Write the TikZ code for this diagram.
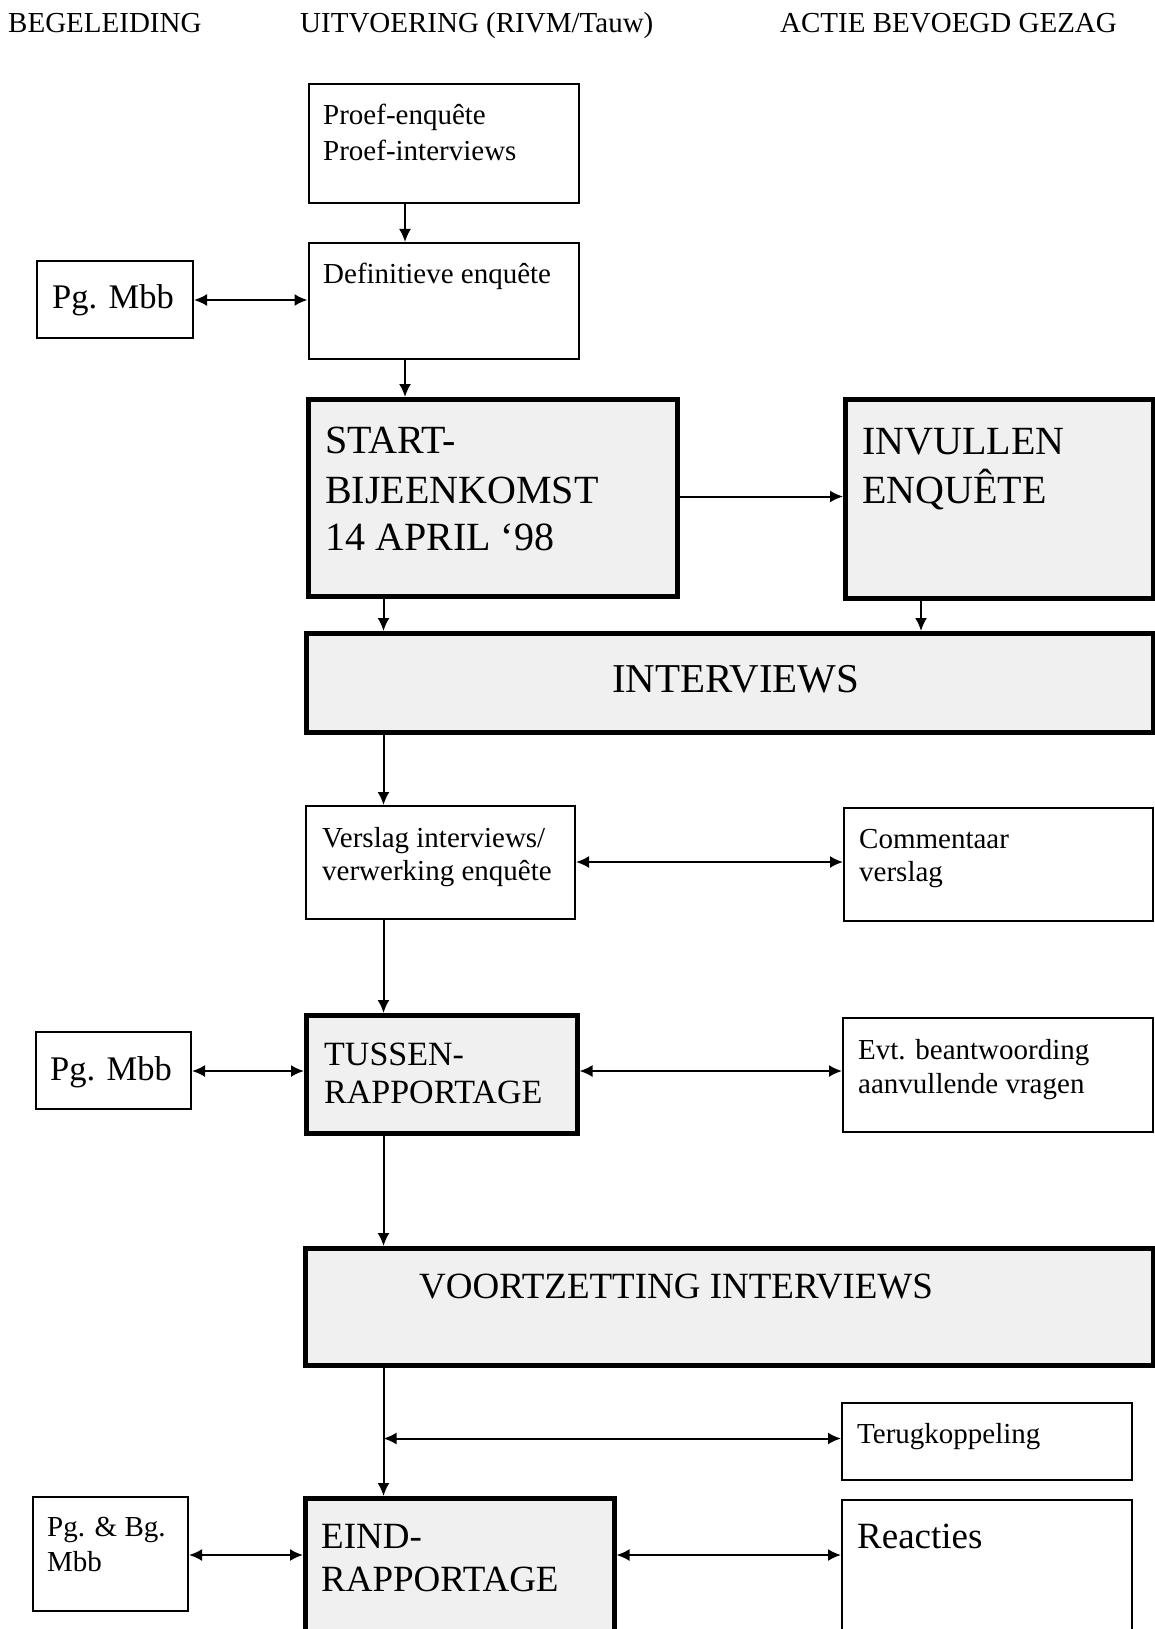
\documentclass[tikz,border=0pt]{standalone}
\usepackage{fontspec}
\setmainfont{Liberation Serif}
\usetikzlibrary{arrows.meta}
\begin{document}
\begin{tikzpicture}[x=1pt,y=-1pt,
  thinbox/.style={draw, line width=2pt, inner sep=0, anchor=north west},
  thickbox/.style={draw, line width=4.5pt, fill=black!6, inner sep=0, anchor=north west},
  lbl/.style={anchor=base west, inner sep=0, font=\fontsize{#1}{#1}\selectfont},
  arr/.style={line width=2pt, -{Latex[length=13pt,width=12pt]}},
  darr/.style={line width=2pt, {Latex[length=13pt,width=12pt]}-{Latex[length=13pt,width=12pt]}},
]
\useasboundingbox (0,0) rectangle (1155,1629);
\fill[white] (0,0) rectangle (1155,1629);

% headers
\node[lbl=29] (h1) at (8,33) {BEGELEIDING};
\node[lbl=29] (h2) at (300,33) {UITVOERING (RIVM/Tauw)};
\node[lbl=29] (h3) at (780,33) {ACTIE BEVOEGD GEZAG};

% boxes
\node[thinbox, minimum width=270pt, minimum height=119pt] (proef) at (307.5,83) {};
\node[thinbox, minimum width=270pt, minimum height=116pt] (defin) at (307.5,242) {};
\node[thinbox, minimum width=156pt, minimum height=77pt] (pg1) at (36,260) {};
\node[thickbox, minimum width=369pt, minimum height=197pt] (start) at (306,397) {};
\node[thickbox, minimum width=308pt, minimum height=199pt] (invul) at (843,397) {};
\node[thickbox, minimum width=847pt, minimum height=99pt] (inter) at (304,631) {};
\node[thinbox, minimum width=269pt, minimum height=113pt] (verslag) at (305,805) {};
\node[thinbox, minimum width=309pt, minimum height=113pt] (comment) at (843,807) {};
\node[thickbox, minimum width=271pt, minimum height=118pt] (tussen) at (304,1013) {};
\node[thinbox, minimum width=155pt, minimum height=77pt] (pg2) at (35,1031) {};
\node[thinbox, minimum width=310pt, minimum height=114pt] (evt) at (842,1017) {};
\node[thickbox, minimum width=848pt, minimum height=117pt] (voort) at (303,1246) {};
\node[thinbox, minimum width=290pt, minimum height=77pt] (terug) at (841,1402) {};
\node[thinbox, minimum width=155pt, minimum height=114pt] (pgbg) at (32,1496) {};
\node[thickbox, minimum width=309pt, minimum height=170pt] (eind) at (303,1496) {};
\node[thinbox, minimum width=290pt, minimum height=170pt] (reac) at (841,1499) {};

% texts
\node[lbl=29] (t1a) at (323,125) {Proef-enquête};
\node[lbl=29] (t1b) at (323,161) {Proef-interviews};
\node[lbl=29] (t2) at (323,283.5) {Definitieve enquête};
\node[lbl=34.5] (t3) at (52,308.5) {Pg. Mbb};
\node[lbl=40] (t4a) at (325,453) {START-};
\node[lbl=40] (t4b) at (325,503) {BIJEENKOMST};
\node[lbl=40] (t4c) at (325,550.5) {14 APRIL ‘98};
\node[lbl=40] (t5a) at (862,454) {INVULLEN};
\node[lbl=40] (t5b) at (862,503) {ENQUÊTE};
\node[lbl=41] (t6) at (612,692) {INTERVIEWS};
\node[lbl=29] (t7a) at (322,847) {Verslag interviews/};
\node[lbl=29] (t7b) at (322,880) {verwerking enquête};
\node[lbl=29] (t8a) at (859,848) {Commentaar};
\node[lbl=29] (t8b) at (859,881) {verslag};
\node[lbl=34] (t9a) at (324,1065) {TUSSEN-};
\node[lbl=34] (t9b) at (324,1103) {RAPPORTAGE};
\node[lbl=34.5] (t10) at (50,1080) {Pg. Mbb};
\node[lbl=29] (t11a) at (858,1059) {Evt. beantwoording};
\node[lbl=29] (t11b) at (858,1093) {aanvullende vragen};
\node[lbl=37] (t12) at (419,1298) {VOORTZETTING INTERVIEWS};
\node[lbl=29] (t13) at (857,1443) {Terugkoppeling};
\node[lbl=29] (t14a) at (47,1536.5) {Pg. \& Bg.};
\node[lbl=29] (t14b) at (47,1571.5) {Mbb};
\node[lbl=37] (t15a) at (321,1548) {EIND-};
\node[lbl=37] (t15b) at (321,1591) {RAPPORTAGE};
\node[lbl=37] (t16) at (857,1548) {Reacties};

% connector guides
\coordinate (xa) at (405,0);
\coordinate (xb) at (383.5,0);
\coordinate (xc) at (921,0);
\coordinate (ya) at (0,300);
\coordinate (yb) at (0,496.5);
\coordinate (yc) at (0,862);
\coordinate (yd) at (0,1071);
\coordinate (ye) at (0,1438.5);
\coordinate (yf) at (0,1555);

% connectors
\draw[arr] (proef.south -| xa) -- (defin.north -| xa);
\draw[arr] (defin.south -| xa) -- (start.north -| xa);
\draw[darr] (pg1.east |- ya) -- (defin.west |- ya);
\draw[arr] (start.east |- yb) -- (invul.west |- yb);
\draw[arr] (start.south -| xb) -- (inter.north -| xb);
\draw[arr] (invul.south -| xc) -- (inter.north -| xc);
\draw[arr] (inter.south -| xb) -- (verslag.north -| xb);
\draw[darr] (verslag.east |- yc) -- (comment.west |- yc);
\draw[arr] (verslag.south -| xb) -- (tussen.north -| xb);
\draw[darr] (pg2.east |- yd) -- (tussen.west |- yd);
\draw[darr] (tussen.east |- yd) -- (evt.west |- yd);
\draw[arr] (tussen.south -| xb) -- (voort.north -| xb);
\draw[arr] (voort.south -| xb) -- (eind.north -| xb);
\draw[darr] (xb |- ye) -- (terug.west |- ye);
\draw[darr] (pgbg.east |- yf) -- (eind.west |- yf);
\draw[darr] (eind.east |- yf) -- (reac.west |- yf);
\end{tikzpicture}
\end{document}
